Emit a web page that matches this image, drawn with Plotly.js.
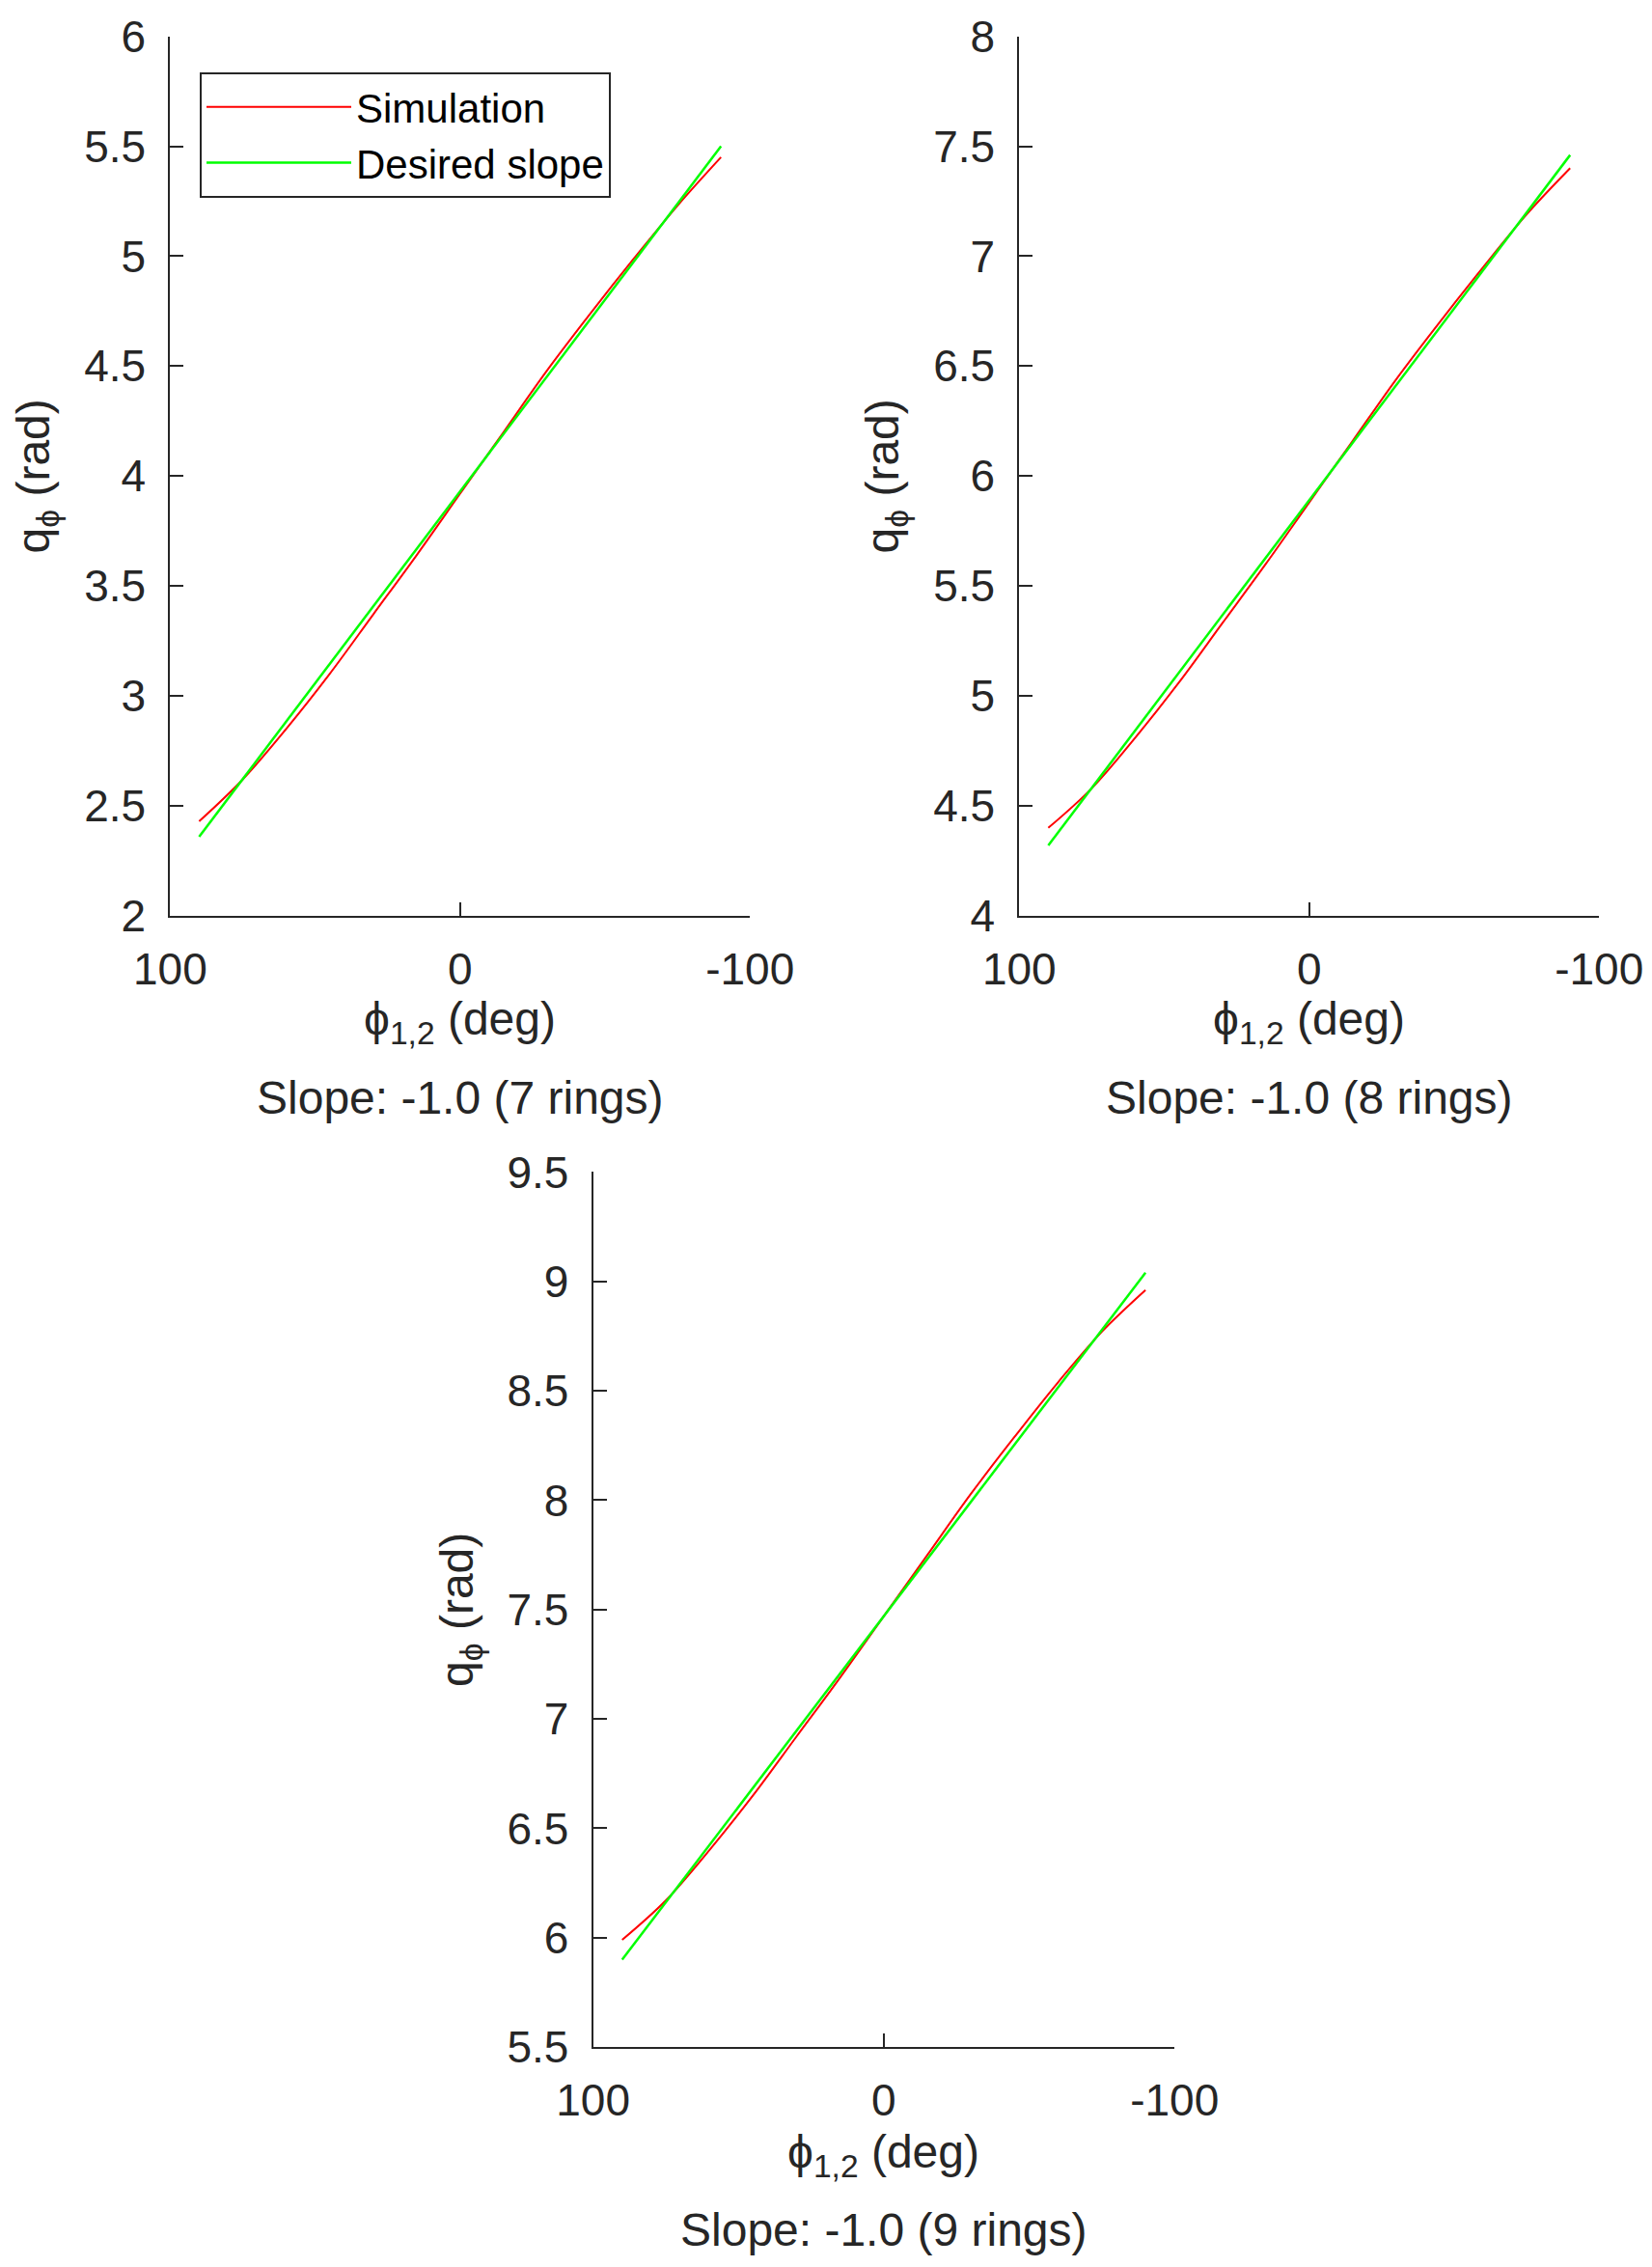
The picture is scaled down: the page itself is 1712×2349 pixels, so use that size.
<!DOCTYPE html>
<html>
<head>
<meta charset="utf-8">
<script src="https://cdn.plot.ly/plotly-3.0.1.min.js"></script>
<style>body{margin:0;background:#fff}</style>
</head>
<body>
<div id="chart" style="width:1712px;height:2349px"></div>
<script>
// angle samples (deg)
var phi = [90, 75, 60, 45, 30, 15, 0, -15, -30, -45, -60, -75, -90];
var phiEnds = [90, -90];

// 7 rings
var sim7 = [2.43, 2.62, 2.85, 3.10, 3.37, 3.64, 3.92, 4.20, 4.48, 4.74, 4.99, 5.23, 5.45];
var des7 = [2.36, 5.50];
// 8 rings
var sim8 = [4.40, 4.58, 4.81, 5.06, 5.33, 5.60, 5.88, 6.16, 6.44, 6.70, 6.95, 7.19, 7.40];
var des8 = [4.32, 7.46];
// 9 rings
var sim9 = [5.99, 6.17, 6.40, 6.65, 6.92, 7.19, 7.47, 7.75, 8.03, 8.29, 8.54, 8.77, 8.96];
var des9 = [5.90, 9.04];

var rings = ['7', '8', '9'];
var yRanges = [[2, 6], [4, 8], [5.5, 9.5]];
var yTicks = [[2, 2.5, 3, 3.5, 4, 4.5, 5, 5.5, 6],
              [4, 4.5, 5, 5.5, 6, 6.5, 7, 7.5, 8],
              [5.5, 6, 6.5, 7, 7.5, 8, 8.5, 9, 9.5]];

var font = 'Liberation Sans, Arial, sans-serif';
var sims = [sim7, sim8, sim9];
var dess = [des7, des8, des9];

var data = [];
for (var i = 0; i < 3; i++) {
  var xa = i === 0 ? 'x' : 'x' + (i + 1);
  var ya = i === 0 ? 'y' : 'y' + (i + 1);
  data.push({x: phi, y: sims[i], xaxis: xa, yaxis: ya, mode: 'lines', line: {color: '#ff0000', width: 2, shape: 'spline'}, name: 'Simulation', showlegend: i === 0});
  data.push({x: phiEnds, y: dess[i], xaxis: xa, yaxis: ya, mode: 'lines', line: {color: '#00ff00', width: 2.5}, name: 'Desired slope', showlegend: i === 0});
}

function xAxis(dom, anchor) {
  return {domain: dom, anchor: anchor, range: [100, -100], tickvals: [100, 0, -100], ticktext: ['100', '0', '-100'],
    showline: true, linecolor: '#262626', linewidth: 2, ticks: 'inside', ticklen: 14, tickwidth: 2, tickcolor: '#262626',
    ticklabelstandoff: 14,
    showgrid: false, zeroline: false, tickfont: {size: 46, color: '#262626', family: font}};
}
function yAxis(dom, anchor, i) {
  return {domain: dom, anchor: anchor, range: yRanges[i], tickvals: yTicks[i],
    showline: true, linecolor: '#262626', linewidth: 2, ticks: 'inside', ticklen: 14, tickwidth: 2, tickcolor: '#262626',
    ticklabelstandoff: 14,
    showgrid: false, zeroline: false, tickfont: {size: 46, color: '#262626', family: font},
    title: {text: 'q<sub>ϕ</sub> (rad)', font: {size: 48, color: '#262626', family: font}, standoff: 20}};
}

var xDoms = [[0.103, 0.454], [0.617, 0.968], [0.359, 0.711]];
var yDoms = [[0.596, 0.984], [0.596, 0.984], [0.097, 0.483]];

var annotations = [];
var labelY = [[1059, 1137], [1059, 1137], [2233, 2310]];
for (var j = 0; j < 3; j++) {
  var cx = (xDoms[j][0] + xDoms[j][1]) / 2;
  annotations.push({xref: 'paper', yref: 'paper', x: cx, y: 1 - labelY[j][0] / 2349, xanchor: 'center', yanchor: 'middle', showarrow: false,
    text: 'ϕ<sub>1,2</sub> (deg)', font: {size: 48, color: '#262626', family: font}});
  annotations.push({xref: 'paper', yref: 'paper', x: cx, y: 1 - labelY[j][1] / 2349, xanchor: 'center', yanchor: 'middle', showarrow: false,
    text: 'Slope: -1.0 (' + rings[j] + ' rings)', font: {size: 48, color: '#262626', family: font}});
}

var layout = {
  width: 1712, height: 2349, margin: {l: 0, r: 0, t: 0, b: 0},
  paper_bgcolor: '#fff', plot_bgcolor: '#fff',
  xaxis: xAxis(xDoms[0], 'y'), yaxis: yAxis(yDoms[0], 'x', 0),
  xaxis2: xAxis(xDoms[1], 'y2'), yaxis2: yAxis(yDoms[1], 'x2', 1),
  xaxis3: xAxis(xDoms[2], 'y3'), yaxis3: yAxis(yDoms[2], 'x3', 2),
  legend: {x: 207 / 1712, y: 1 - 75 / 2349, xanchor: 'left', yanchor: 'top', bordercolor: '#262626', borderwidth: 2,
    bgcolor: '#fff', itemwidth: 150, tracegroupgap: 0, font: {size: 42, color: '#000', family: font}},
  annotations: annotations
};

Plotly.newPlot('chart', data, layout, {staticPlot: true});
</script>
</body>
</html>
